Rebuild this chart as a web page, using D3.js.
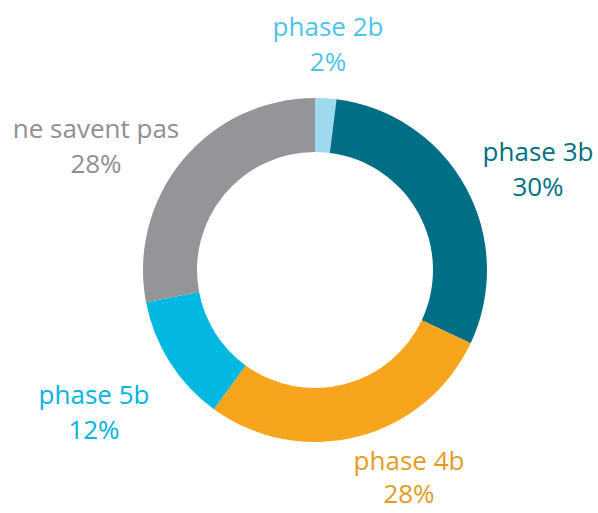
<!DOCTYPE html>
<html>
<head>
<meta charset="utf-8">
<title>Donut</title>
<script src="https://cdn.jsdelivr.net/npm/d3@7"></script>
<style>
  body { margin: 0; background: #fff; }
  text { font-family: "Open Sans", sans-serif; font-size: 26px; }
</style>
</head>
<body>
<div id="chart"></div>
<script>
var labels = ["phase 2b", "phase 3b", "phase 4b", "phase 5b", "ne savent pas"];
var values = [2, 30, 28, 12, 28];
var sliceColors = ["#9dd9ef", "#006f85", "#f7a51d", "#00b8e0", "#949599"];
var textColors = ["#4ec3e8", "#006f82", "#e39c1e", "#00b4df", "#8e8f92"];
// label anchors (first line baseline)
var labelPos = [[328, 36], [538, 161], [409, 470], [94, 404], [96, 138]];

var width = 598, height = 513;
var cx = 315, cy = 270, outerR = 172, innerR = 118;

var svg = d3.select("#chart").append("svg")
    .attr("width", width)
    .attr("height", height);

var pie = d3.pie().sort(null).value(function (d) { return d; });
var arc = d3.arc().innerRadius(innerR).outerRadius(outerR);

var g = svg.append("g").attr("transform", "translate(" + cx + "," + cy + ")");

g.selectAll("path")
    .data(pie(values))
    .enter()
    .append("path")
    .attr("d", arc)
    .attr("fill", function (d, i) { return sliceColors[i]; });

var lab = svg.selectAll(".lab")
    .data(labels)
    .enter()
    .append("text")
    .attr("class", "lab")
    .attr("text-anchor", "middle")
    .attr("fill", function (d, i) { return textColors[i]; })
    .attr("transform", function (d, i) {
        return "translate(" + labelPos[i][0] + "," + labelPos[i][1] + ")";
    });

lab.append("tspan")
    .attr("x", 0)
    .text(function (d) { return d; });

lab.append("tspan")
    .attr("x", 0)
    .attr("dy", function (d, i) { return i === 2 ? 33 : 35; })
    .text(function (d, i) { return values[i] + "%"; });
</script>
</body>
</html>
